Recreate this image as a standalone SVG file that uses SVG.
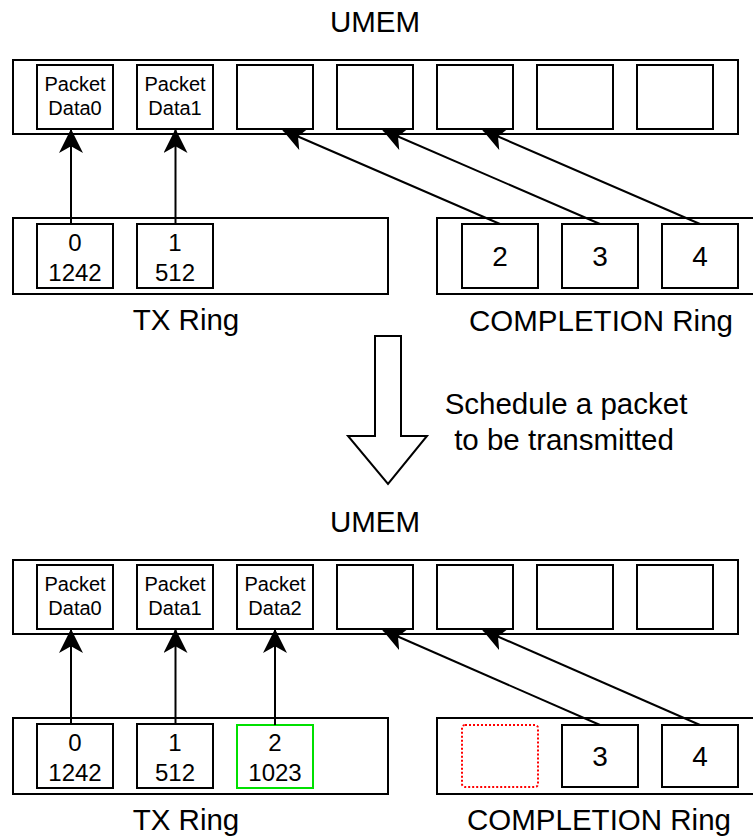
<svg xmlns="http://www.w3.org/2000/svg" width="753" height="839" viewBox="0 0 753 839">
<style>
  .box{fill:#fff;stroke:#000;stroke-width:2}
  .t{font-family:"Liberation Sans",Arial,sans-serif;fill:#000;text-anchor:middle}
  .lbl{font-size:29.5px}
  .pk{font-size:20px}
  .tx{font-size:24px}
  .cp{font-size:28px}
  .ln{stroke:#000;stroke-width:2;fill:none;marker-end:url(#ah)}
</style>
<defs>
  <marker id="ah" markerUnits="userSpaceOnUse" markerWidth="24" markerHeight="24" viewBox="0 0 22 22" refX="21" refY="11" orient="auto">
    <path d="M22,11 L0,0 L6,11 L0,22 Z" fill="#000"/>
  </marker>
</defs>
<rect width="753" height="839" fill="#fff"/>

<!-- ===== TOP STATE ===== -->
<g id="umem1">
  <text class="t lbl" x="375" y="32">UMEM</text>
  <rect class="box" x="13" y="60" width="725" height="74"/>
  <rect class="box" x="37" y="65" width="76" height="64"/>
  <text class="t pk" x="75" y="91">Packet</text>
  <text class="t pk" x="75" y="115">Data0</text>
  <rect class="box" x="137" y="65" width="76" height="64"/>
  <text class="t pk" x="175" y="91">Packet</text>
  <text class="t pk" x="175" y="115">Data1</text>
  <rect class="box" x="237" y="65" width="76" height="64"/>
  <rect class="box" x="337" y="65" width="76" height="64"/>
  <rect class="box" x="437" y="65" width="76" height="64"/>
  <rect class="box" x="537" y="65" width="76" height="64"/>
  <rect class="box" x="637" y="65" width="76" height="64"/>
</g>
<g id="tx1">
  <rect class="box" x="13" y="218" width="375" height="76"/>
  <rect class="box" x="37" y="224" width="76" height="64"/>
  <text class="t tx" x="75" y="251">0</text>
  <text class="t tx" x="75" y="281">1242</text>
  <rect class="box" x="137" y="224" width="76" height="64"/>
  <text class="t tx" x="175" y="251">1</text>
  <text class="t tx" x="175" y="281">512</text>
  <text class="t lbl" x="186" y="330">TX Ring</text>
</g>
<g id="comp1">
  <rect class="box" x="437" y="218" width="330" height="76"/>
  <rect class="box" x="462" y="224" width="76" height="64"/>
  <text class="t cp" x="500" y="266">2</text>
  <rect class="box" x="562" y="224" width="76" height="64"/>
  <text class="t cp" x="600" y="266">3</text>
  <rect class="box" x="662" y="224" width="76" height="64"/>
  <text class="t cp" x="700" y="266">4</text>
  <text class="t lbl" x="601" y="331">COMPLETION Ring</text>
</g>

<!-- transition -->
<g id="transition">
  <polygon points="375,336 401,336 401,436 427,436 388,484 348,436 375,436" fill="#fff" stroke="#000" stroke-width="2"/>
  <text class="t lbl" x="566" y="414">Schedule a packet</text>
  <text class="t lbl" x="564" y="450">to be transmitted</text>
</g>

<!-- ===== BOTTOM STATE ===== -->
<g id="umem2">
  <text class="t lbl" x="375" y="532">UMEM</text>
  <rect class="box" x="13" y="560" width="725" height="74"/>
  <rect class="box" x="37" y="565" width="76" height="64"/>
  <text class="t pk" x="75" y="591">Packet</text>
  <text class="t pk" x="75" y="615">Data0</text>
  <rect class="box" x="137" y="565" width="76" height="64"/>
  <text class="t pk" x="175" y="591">Packet</text>
  <text class="t pk" x="175" y="615">Data1</text>
  <rect class="box" x="237" y="565" width="76" height="64"/>
  <text class="t pk" x="275" y="591">Packet</text>
  <text class="t pk" x="275" y="615">Data2</text>
  <rect class="box" x="337" y="565" width="76" height="64"/>
  <rect class="box" x="437" y="565" width="76" height="64"/>
  <rect class="box" x="537" y="565" width="76" height="64"/>
  <rect class="box" x="637" y="565" width="76" height="64"/>
</g>
<g id="tx2">
  <rect class="box" x="13" y="718" width="375" height="76"/>
  <rect class="box" x="37" y="724" width="76" height="64"/>
  <text class="t tx" x="75" y="751">0</text>
  <text class="t tx" x="75" y="781">1242</text>
  <rect class="box" x="137" y="724" width="76" height="64"/>
  <text class="t tx" x="175" y="751">1</text>
  <text class="t tx" x="175" y="781">512</text>
  <rect x="237" y="725" width="76" height="63" fill="#fff" stroke="#00e000" stroke-width="2"/>
  <text class="t tx" x="275" y="751">2</text>
  <text class="t tx" x="275" y="781">1023</text>
  <text class="t lbl" x="186" y="830">TX Ring</text>
</g>
<g id="comp2">
  <rect class="box" x="437" y="718" width="330" height="76"/>
  <rect x="462" y="725" width="76" height="62" rx="3" fill="#fff" stroke="#ff0000" stroke-width="2" stroke-dasharray="2 2"/>
  <rect class="box" x="562" y="725" width="76" height="62"/>
  <text class="t cp" x="600" y="766">3</text>
  <rect class="box" x="662" y="725" width="76" height="62"/>
  <text class="t cp" x="700" y="766">4</text>
  <text class="t lbl" x="599" y="830">COMPLETION Ring</text>
</g>

<!-- connectors -->
<g id="connectors">
  <line class="ln" x1="71" y1="224" x2="71" y2="130"/>
  <line class="ln" x1="175.5" y1="224" x2="175.5" y2="130"/>
  <line class="ln" x1="500" y1="224" x2="283" y2="130"/>
  <line class="ln" x1="600" y1="224" x2="383" y2="130"/>
  <line class="ln" x1="700" y1="224" x2="483" y2="130"/>

  <line class="ln" x1="71" y1="724" x2="71" y2="630"/>
  <line class="ln" x1="175.5" y1="724" x2="175.5" y2="630"/>
  <line class="ln" x1="275" y1="725" x2="275" y2="630"/>
  <line class="ln" x1="600" y1="725" x2="383" y2="630"/>
  <line class="ln" x1="700" y1="725" x2="483" y2="630"/>
</g>
</svg>
